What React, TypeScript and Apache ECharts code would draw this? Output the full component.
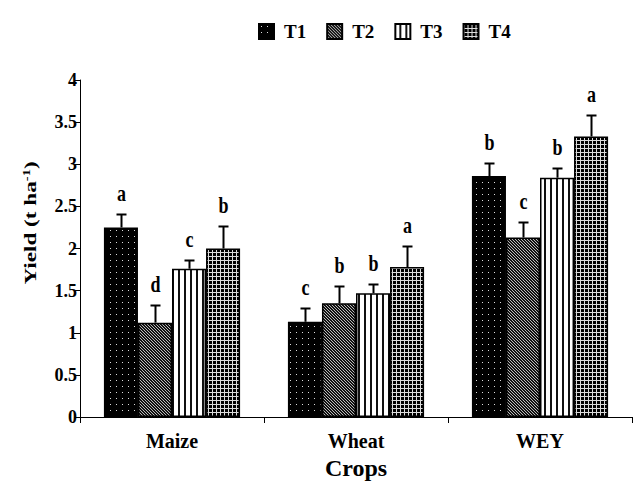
import React, { useEffect, useRef } from "react";
import * as echarts from "echarts";

const categories = ["Maize", "Wheat", "WEY"];
const seriesNames = ["T1", "T2", "T3", "T4"];
const valuesT1 = [2.25, 1.13, 2.86];
const valuesT2 = [1.12, 1.35, 2.13];
const valuesT3 = [1.76, 1.47, 2.84];
const valuesT4 = [2.0, 1.78, 3.33];
const errT1 = [0.16, 0.16, 0.16];
const errT2 = [0.21, 0.2, 0.19];
const errT3 = [0.1, 0.11, 0.11];
const errT4 = [0.27, 0.25, 0.25];
const lettersT1 = ["a", "c", "b"];
const lettersT2 = ["d", "b", "c"];
const lettersT3 = ["c", "b", "b"];
const lettersT4 = ["b", "a", "a"];
const yTicks = [0, 0.5, 1, 1.5, 2, 2.5, 3, 3.5, 4];

const FONT = "'Liberation Serif', 'Times New Roman', serif";

function svgUri(w: number, h: number, body: string) {
  const s = `<svg xmlns='http://www.w3.org/2000/svg' width='${w}' height='${h}' shape-rendering='crispEdges'>${body}</svg>`;
  return "data:image/svg+xml;charset=utf-8," + encodeURIComponent(s);
}

const patterns = [
  {
    image: svgUri(6, 6, "<rect width='6' height='6' fill='#000'/><rect x='2' y='2' width='1' height='1' fill='#ddd'/>"),
    repeat: "repeat",
    imageWidth: 6,
    imageHeight: 6,
  },
  {
    image: svgUri(
      3,
      3,
      "<rect width='3' height='3' fill='#111'/><rect x='0' y='0' width='1' height='1' fill='#bbb'/><rect x='1' y='1' width='1' height='1' fill='#bbb'/><rect x='2' y='2' width='1' height='1' fill='#bbb'/>"
    ),
    repeat: "repeat",
    imageWidth: 3,
    imageHeight: 3,
  },
  {
    image: svgUri(6, 6, "<rect width='6' height='6' fill='#fff'/><rect x='4' y='0' width='2' height='6' fill='#111'/>"),
    repeat: "repeat",
    imageWidth: 6,
    imageHeight: 6,
  },
  {
    image: svgUri(
      4,
      4,
      "<rect width='4' height='4' fill='#000'/><rect x='0' y='0' width='4' height='1' fill='#ddd'/><rect x='0' y='0' width='1' height='4' fill='#ddd'/>"
    ),
    repeat: "repeat",
    imageWidth: 4,
    imageHeight: 4,
  },
];

const BAR_CAT_GAP = 0.26;

export default function App() {
  const ref = useRef<HTMLDivElement>(null);
  useEffect(() => {
    if (!ref.current) return;
    const chart = echarts.init(ref.current, null, { renderer: "svg" });
    const allValues = [valuesT1, valuesT2, valuesT3, valuesT4];
    const allErr = [errT1, errT2, errT3, errT4];
    const allLetters = [lettersT1, lettersT2, lettersT3, lettersT4];

    const errData: any[] = [];
    const errLetters: string[] = [];
    for (let s = 0; s < 4; s++) {
      for (let c = 0; c < categories.length; c++) {
        errData.push([c, allValues[s][c], allErr[s][c], s]);
        errLetters.push(allLetters[s][c]);
      }
    }

    const barSeries = seriesNames.map((name, s) => ({
      name,
      type: "bar",
      data: allValues[s],
      barGap: "0%",
      barCategoryGap: BAR_CAT_GAP * 100 + "%",
      itemStyle: {
        color: patterns[s] as any,
        borderColor: "#000",
        borderWidth: 1.5,
      },
    }));

    const option: any = {
      animation: false,
      backgroundColor: "#fff",
      legend: {
        data: seriesNames,
        left: 253,
        top: 17,
        itemWidth: 15,
        itemHeight: 15,
        itemGap: 20,
        icon: "rect",
        textStyle: {
          fontFamily: FONT,
          fontSize: 19,
          fontWeight: "bold",
          color: "#000",
          padding: [0, 0, 0, 5],
        },
      },
      grid: { left: 80, right: 9, top: 80, bottom: 69, containLabel: false },
      xAxis: {
        type: "category",
        data: categories,
        name: "Crops",
        nameLocation: "middle",
        nameGap: 38,
        nameTextStyle: { fontFamily: FONT, fontSize: 24, fontWeight: "bold", color: "#000" },
        axisLine: { lineStyle: { color: "#000", width: 1 } },
        axisTick: { show: true, length: 6, lineStyle: { color: "#000" } },
        axisLabel: { fontFamily: FONT, fontSize: 20, fontWeight: "bold", color: "#000", margin: 14 },
      },
      yAxis: {
        type: "value",
        min: yTicks[0],
        max: yTicks[yTicks.length - 1],
        interval: 0.5,
        splitLine: { show: false },
        axisLine: { show: true, lineStyle: { color: "#000", width: 1 } },
        axisTick: { show: true, length: 6, lineStyle: { color: "#000" } },
        axisLabel: { fontFamily: FONT, fontSize: 18, fontWeight: "bold", color: "#000", margin: 3 },
      },
      graphic: [
        {
          type: "text",
          x: 30,
          y: 223,
          rotation: Math.PI / 2,
          scaleX: 1.45,
          style: {
            text: "Yield (t ha{sup|-1})",
            fontFamily: FONT,
            fontSize: 16,
            fontWeight: "bold",
            fill: "#000",
            align: "center",
            textAlign: "center",
            verticalAlign: "middle",
            textVerticalAlign: "middle",
            rich: {
              sup: {
                fontFamily: FONT,
                fontSize: 10,
                fontWeight: "bold",
                fill: "#000",
                verticalAlign: "top",
              },
            },
          },
        },
      ],
      series: [
        ...barSeries,
        {
          type: "custom",
          z: 10,
          data: errData,
          encode: { x: 0, y: 1 },
          renderItem: (params: any, api: any) => {
            const cat = api.value(0);
            const val = api.value(1);
            const err = api.value(2);
            const s = api.value(3);
            const base = api.coord([cat, val]);
            const top = api.coord([cat, val + err]);
            const band = api.size([1, 0])[0];
            const group = band * (1 - BAR_CAT_GAP);
            const bw = group / 4;
            const x = Math.round(base[0] - group / 2 + (s + 0.5) * bw) + 0.5;
            const capY = Math.round(top[1]) + 0.5;
            const letter = errLetters[params.dataIndex];
            return {
              type: "group",
              children: [
                {
                  type: "line",
                  shape: { x1: x, y1: base[1], x2: x, y2: capY },
                  style: { stroke: "#000", lineWidth: 2 },
                },
                {
                  type: "line",
                  shape: { x1: x - 5, y1: capY, x2: x + 5, y2: capY },
                  style: { stroke: "#000", lineWidth: 2 },
                },
                {
                  type: "text",
                  x: x,
                  y: capY - 10,
                  scaleY: 1.25,
                  style: {
                    text: letter,
                    fontFamily: FONT,
                    fontSize: 18,
                    fontWeight: "bold",
                    fill: "#000",
                    align: "center",
                    textAlign: "center",
                    verticalAlign: "bottom",
                    textVerticalAlign: "bottom",
                  },
                },
              ],
            };
          },
        },
      ],
    };
    chart.setOption(option);
    return () => chart.dispose();
  }, []);
  return (
    <div
      ref={ref}
      style={{ position: "absolute", left: 0, top: 0, width: 641, height: 486, background: "#fff" }}
    />
  );
}
